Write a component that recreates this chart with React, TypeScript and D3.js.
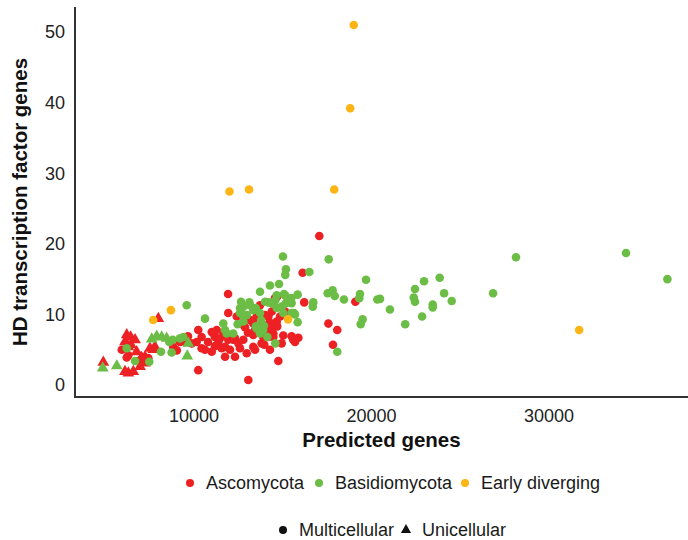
import { useEffect, useRef } from 'react'
import * as d3 from 'd3'

// axis ticks
const xTicks = [10000, 20000, 30000]
const yTicks = [0, 10, 20, 30, 40, 50]

// legend entries
const phyla = ['Ascomycota', 'Basidiomycota', 'Early diverging']
const forms = ['Multicellular', 'Unicellular']

// [predicted genes, HD transcription factor genes]
const ascomycotaMulti: [number, number][] = [
  [5930, 5.0], [6300, 4.2], [6960, 3.5], [7430, 3.8], [6210, 3.9], [8830, 5.4], [9030, 4.9],
  [9210, 6.1], [9490, 6.1], [9870, 5.9], [9660, 6.9], [10240, 7.8], [10430, 6.8], [10150, 6.1],
  [10430, 5.2], [10620, 5.0], [10240, 2.1], [10790, 6.1], [11000, 7.5], [11180, 6.8], [11370, 6.1],
  [11000, 4.7], [11180, 5.5], [11280, 7.8], [11090, 7.3], [11460, 6.6], [11650, 7.1], [11560, 5.2],
  [11750, 5.4], [11930, 6.4], [12030, 5.0], [12210, 6.4], [12310, 6.6], [12500, 5.9], [11750, 4.0],
  [12310, 4.0], [12590, 5.2], [12780, 6.4], [12970, 4.5], [13340, 5.4], [13440, 5.0], [13810, 5.9],
  [14280, 5.0], [14940, 5.9], [11920, 12.9], [11930, 10.2], [12410, 9.7], [12780, 8.5], [12870, 8.2],
  [13040, 7.4], [13440, 10.6], [13530, 9.7], [13620, 9.6], [13160, 9.2], [13340, 8.7], [13440, 7.8],
  [13340, 7.1], [13720, 8.3], [13900, 7.5], [13900, 6.8], [14000, 9.9], [14000, 7.1], [14190, 9.7],
  [14380, 10.4], [14380, 8.7], [14240, 8.8], [14320, 7.8], [14190, 6.8], [14470, 6.8], [14470, 7.3],
  [14690, 8.3], [14660, 9.0], [14280, 8.3], [14850, 9.7], [15130, 10.4], [15030, 7.0], [15500, 6.9],
  [15880, 6.7], [15690, 6.1], [15590, 6.4], [13960, 5.7], [14750, 3.4], [13060, 0.7], [13720, 11.3],
  [14560, 12.3], [14680, 12.5], [16120, 15.9], [16210, 11.7], [17060, 21.1], [17570, 8.7],
  [18070, 7.8], [17830, 5.7], [19090, 11.8],
]
const ascomycotaUni: [number, number][] = [
  [4890, 3.2], [6300, 1.7], [6110, 1.9], [6580, 1.9], [6210, 7.1], [6430, 6.8], [6110, 6.1],
  [6680, 6.4], [6300, 5.4], [6450, 5.7], [6770, 4.7], [7050, 3.9], [7240, 3.1], [6960, 2.6],
  [7240, 4.0], [7520, 5.2], [7710, 5.0], [7800, 5.4], [7990, 9.4],
]
const basidiomycotaMulti: [number, number][] = [
  [28140, 18.1], [34340, 18.7], [36670, 15.0], [26850, 13.0], [23840, 15.2], [22960, 14.7],
  [22450, 13.6], [22380, 12.4], [22450, 11.8], [24090, 13.0], [24520, 11.9], [23450, 11.4],
  [23450, 11.0], [21040, 10.7], [22850, 9.7], [21900, 8.6], [20480, 12.2], [17590, 17.8],
  [19690, 14.9], [17810, 13.4], [17930, 12.6], [18450, 12.1], [19350, 12.9], [19310, 12.3],
  [20330, 12.1], [19500, 9.3], [19390, 8.6], [18070, 4.7], [17530, 13.0],
  [15010, 18.2], [15180, 16.4], [15140, 15.6], [16500, 16.0], [14280, 14.1], [14790, 14.3],
  [13720, 13.2], [15070, 12.9], [15840, 12.8], [15130, 12.7], [14660, 12.7], [14580, 12.0],
  [14190, 11.7], [15480, 12.3], [15180, 11.6], [15500, 11.6], [14380, 11.6], [14000, 11.8],
  [16720, 11.7], [16690, 11.1], [12650, 11.8], [13120, 11.7], [12780, 11.1], [13160, 11.3],
  [12590, 10.9], [13480, 10.9], [14660, 10.9], [14940, 11.1], [12720, 10.0], [12970, 9.9],
  [12590, 10.2], [13340, 10.6], [13720, 10.2], [15690, 10.0], [15630, 10.2], [15030, 10.2],
  [15500, 10.2], [9590, 11.3], [10620, 9.4], [11650, 8.7], [11750, 7.8], [11840, 7.3],
  [12210, 7.3], [12460, 8.6], [12780, 9.0], [13780, 9.2], [13490, 8.3], [13530, 8.0],
  [13720, 7.3], [13900, 7.8], [13940, 8.4], [14130, 6.8], [15840, 8.9], [14580, 5.9],
  [8610, 6.1], [8800, 6.4], [9210, 6.6], [9400, 6.8], [8140, 4.7], [8740, 4.6], [6210, 5.2],
  [6680, 3.4], [7480, 3.3],
]
const basidiomycotaUni: [number, number][] = [
  [4860, 2.4], [5650, 2.7], [7620, 6.5], [7900, 6.9], [8180, 6.8], [8460, 6.6], [9680, 5.9],
  [9620, 4.1],
]
const earlyDivergingMulti: [number, number][] = [
  [19000, 51.0], [18800, 39.2], [12000, 27.4], [13100, 27.7], [17900, 27.7], [15300, 9.3],
  [31700, 7.8], [7700, 9.2], [8700, 10.6],
]

const colors = ['#ED2024', '#6BBD45', '#FDB515']
const font = "'Liberation Sans', Arial, sans-serif"

const series = [
  { phylum: 0, form: 0, pts: ascomycotaMulti },
  { phylum: 0, form: 1, pts: ascomycotaUni },
  { phylum: 1, form: 0, pts: basidiomycotaMulti },
  { phylum: 1, form: 1, pts: basidiomycotaUni },
  { phylum: 2, form: 0, pts: earlyDivergingMulti },
]

const App = () => {
  const svgRef = useRef<SVGSVGElement>(null)
  const width = 688
  const height = 540

  useEffect(() => {
    const left = 75
    const bottom = 397
    const top = 7

    const x = d3.scaleLinear([10000, 30000], [194, 549])
    const y = d3.scaleLinear([0, 50], [385, 32])

    const svg = d3.select(svgRef.current)
    svg.selectAll('*').remove()

    // axis lines
    svg
      .append('path')
      .attr('d', `M${left},${top}V${bottom}H${width}`)
      .attr('fill', 'none')
      .attr('stroke', '#333')
      .attr('stroke-width', 2)

    // y tick labels
    svg
      .append('g')
      .selectAll('text')
      .data(yTicks)
      .join('text')
      .attr('x', left - 10)
      .attr('y', (d) => y(d))
      .attr('dy', '0.35em')
      .attr('text-anchor', 'end')
      .style('font-family', font)
      .style('font-size', '18px')
      .style('fill', '#222')
      .text((d) => d)

    // x tick labels
    svg
      .append('g')
      .selectAll('text')
      .data(xTicks)
      .join('text')
      .attr('x', (d) => x(d))
      .attr('y', bottom + 25)
      .attr('text-anchor', 'middle')
      .style('font-family', font)
      .style('font-size', '18px')
      .style('fill', '#222')
      .text((d) => d)

    // axis titles
    svg
      .append('text')
      .attr('x', (left + width) / 2)
      .attr('y', 447)
      .attr('text-anchor', 'middle')
      .style('font-family', font)
      .style('font-weight', 'bold')
      .style('font-size', '20.5px')
      .style('fill', '#111')
      .text('Predicted genes')
    svg
      .append('text')
      .attr('transform', 'translate(27,202) rotate(-90)')
      .attr('text-anchor', 'middle')
      .style('font-family', font)
      .style('font-weight', 'bold')
      .style('font-size', '20.5px')
      .style('fill', '#111')
      .text('HD transcription factor genes')

    // points
    const tri = d3.symbol(d3.symbolTriangle, 60)
    series.forEach((s) => {
      const g = svg.append('g').attr('fill', colors[s.phylum])
      if (s.form === 0) {
        g.selectAll('circle')
          .data(s.pts)
          .join('circle')
          .attr('cx', (d) => x(d[0]))
          .attr('cy', (d) => y(d[1]))
          .attr('r', 4.3)
      } else {
        g.selectAll('path')
          .data(s.pts)
          .join('path')
          .attr('d', tri)
          .attr('transform', (d) => `translate(${x(d[0])},${y(d[1])})`)
      }
    })

    // legend: phylum colours
    const phylumX = [190, 319, 465]
    const leg1 = svg.append('g')
    phyla.forEach((p, i) => {
      leg1
        .append('circle')
        .attr('cx', phylumX[i])
        .attr('cy', 483)
        .attr('r', 4)
        .attr('fill', colors[i])
      leg1
        .append('text')
        .attr('x', phylumX[i] + 16)
        .attr('y', 483)
        .attr('dy', '0.35em')
        .style('font-family', font)
        .style('font-size', '18px')
        .style('fill', '#1a1a1a')
        .text(p)
    })

    // legend: shapes
    const formX = [283, 406]
    const leg2 = svg.append('g')
    forms.forEach((f, i) => {
      if (i === 0) {
        leg2.append('circle').attr('cx', formX[i]).attr('cy', 530).attr('r', 4).attr('fill', '#111')
      } else {
        leg2
          .append('path')
          .attr('d', d3.symbol(d3.symbolTriangle, 45)())
          .attr('transform', `translate(${formX[i]},530)`)
          .attr('fill', '#111')
      }
      leg2
        .append('text')
        .attr('x', formX[i] + 16)
        .attr('y', 530)
        .attr('dy', '0.35em')
        .style('font-family', font)
        .style('font-size', '18px')
        .style('fill', '#1a1a1a')
        .text(f)
    })
  }, [])

  return (
    <svg
      ref={svgRef}
      width={width}
      height={height}
      style={{ position: 'absolute', left: 0, top: 0, background: '#fff' }}
    />
  )
}

export default App
